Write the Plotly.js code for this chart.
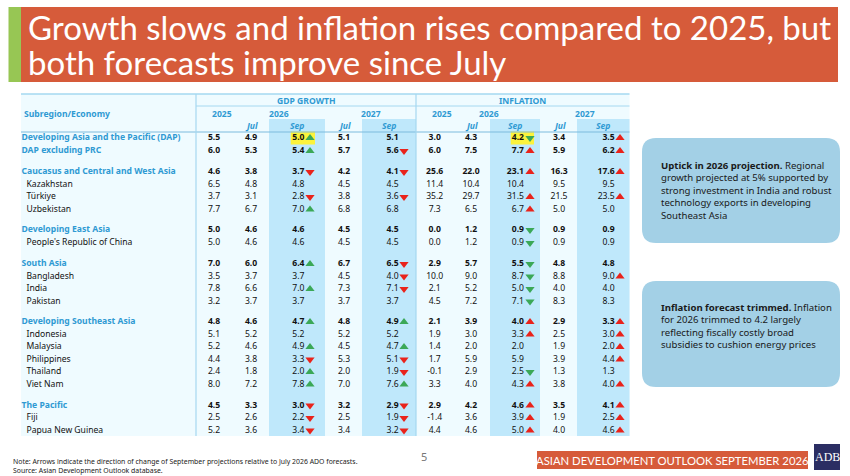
<!DOCTYPE html>
<html><head><meta charset="utf-8">
<script src="https://cdn.plot.ly/plotly-3.0.1.min.js"></script>
<style>html,body{margin:0;padding:0;background:#fff;overflow:hidden}#c{width:850px;height:476px}</style>
</head><body><div id="c"></div>
<script>
// ---------- data ----------
const economies = ["Developing Asia and the Pacific (DAP)","DAP excluding PRC","Caucasus and Central and West Asia","Kazakhstan","Türkiye","Uzbekistan","Developing East Asia","People's Republic of China","South Asia","Bangladesh","India","Pakistan","Developing Southeast Asia","Indonesia","Malaysia","Philippines","Thailand","Viet Nam","The Pacific","Fiji","Papua New Guinea"];
const isAggregate = [1,1,1,0,0,0,1,0,1,0,0,0,1,0,0,0,0,0,1,0,0];
const gdp2025    = [5.5,6.0,4.6,6.5,3.7,7.7,5.0,5.0,7.0,3.5,7.8,3.2,4.8,5.1,5.2,4.4,2.4,8.0,4.5,2.5,5.2];
const gdp2026Jul = [4.9,5.3,3.8,4.8,3.1,6.7,4.6,4.6,6.0,3.7,6.6,3.7,4.6,5.2,4.6,3.8,1.8,7.2,3.3,2.6,3.6];
const gdp2026Sep = [5.0,5.4,3.7,4.8,2.8,7.0,4.6,4.6,6.4,3.7,7.0,3.7,4.7,5.2,4.9,3.3,2.0,7.8,3.0,2.2,3.4];
const gdp2027Jul = [5.1,5.7,4.2,4.5,3.8,6.8,4.5,4.5,6.7,4.5,7.3,3.7,4.8,5.2,4.5,5.3,2.0,7.0,3.2,2.5,3.4];
const gdp2027Sep = [5.1,5.6,4.1,4.5,3.6,6.8,4.5,4.5,6.5,4.0,7.1,3.7,4.9,5.2,4.7,5.1,1.9,7.6,2.9,1.9,3.2];
const inf2025    = [3.0,6.0,25.6,11.4,35.2,7.3,0.0,0.0,2.9,10.0,2.1,4.5,2.1,1.9,1.4,1.7,-0.1,3.3,2.9,-1.4,4.4];
const inf2026Jul = [4.3,7.5,22.0,10.4,29.7,6.5,1.2,1.2,5.7,9.0,5.2,7.2,3.9,3.0,2.0,5.9,2.9,4.0,4.2,3.6,4.6];
const inf2026Sep = [4.2,7.7,23.1,10.4,31.5,6.7,0.9,0.9,5.5,8.7,5.0,7.1,4.0,3.3,2.0,5.9,2.5,4.3,4.6,3.9,5.0];
const inf2027Jul = [3.4,5.9,16.3,9.5,21.5,5.0,0.9,0.9,4.8,8.8,4.0,8.3,2.9,2.5,1.9,3.9,1.3,3.8,3.5,1.9,4.0];
const inf2027Sep = [3.5,6.2,17.6,9.5,23.5,5.0,0.9,0.9,4.8,9.0,4.0,8.3,3.3,3.0,2.0,4.4,1.3,4.0,4.1,2.5,4.6];
const titleLines = ["Growth slows and inflation rises compared to 2025, but","both forecasts improve since July"];
const calloutOne = "<b>Uptick in 2026 projection.</b> Regional<br>growth projected at 5% supported by<br>strong investment in India and robust<br>technology exports in developing<br>Southeast Asia";
const calloutTwo = "<b>Inflation forecast trimmed.</b> Inflation<br>for 2026 trimmed to 4.2 largely<br>reflecting fiscally costly broad<br>subsidies to cushion energy prices";
const noteText = "Note: Arrows indicate the direction of change of September projections relative to July 2026 ADO forecasts.";
const sourceText = "Source: Asian Development Outlook database.";

// ---------- page geometry and styles ----------
const rowY = [138,151,172,184.5,197,209.5,230,243,264,276.5,289,301.5,322,334.5,347,359.5,372,384.5,405.5,418,430.5];
const BLUE="#2F9AD3", F="Noto Sans", F2="Lato", INK="#111";
const SZ=8.6;
const traces=[];
function labels(){
  traces.push({type:"scatter",mode:"text",x:economies.map((_,i)=>isAggregate[i]?21.5:26.5),y:rowY,
    text:economies.map((e,i)=>isAggregate[i]?"<b>"+e+"</b>":e),textposition:"middle right",cliponaxis:false,
    textfont:{family:F,size:SZ,color:economies.map((_,i)=>isAggregate[i]?BLUE:INK)},hoverinfo:"skip"});
}
function col(vals,x,pos){
  traces.push({type:"scatter",mode:"text",x:vals.map(()=>x),y:rowY,cliponaxis:false,
    text:vals.map((v,i)=>{const s=v.toFixed(1);return isAggregate[i]?"<b>"+s+"</b>":s}),
    textposition:pos||"middle center",textfont:{family:F,size:SZ,color:INK},hoverinfo:"skip"});
}
function arrows(jul,sep,x){
  for(const [sym,col,test] of [["triangle-up","",(a,b)=>b>a],["triangle-down","",(a,b)=>b<a]]){
    const up=sym==="triangle-up";
    // growth up is green / inflation up is red
    const inflation = sep===inf2026Sep||sep===inf2027Sep;
    const color=(up!==inflation)?"#3BA857":"#E9231B";
    const xs=[],ys=[];
    sep.forEach((v,i)=>{if(test(jul[i],v)){xs.push(x);ys.push(rowY[i]);}});
    traces.push({type:"scatter",mode:"markers",x:xs,y:ys,cliponaxis:false,hoverinfo:"skip",
      marker:{symbol:sym,size:8,color:color,line:{width:0}}});
  }
}
labels();
col(gdp2025,214); col(gdp2026Jul,251); col(gdp2026Sep,304.5,"middle left"); col(gdp2027Jul,344); col(gdp2027Sep,398.7,"middle left");
col(inf2025,434.7); col(inf2026Jul,471); col(inf2026Sep,524,"middle left"); col(inf2027Jul,559); col(inf2027Sep,614.7,"middle left");
arrows(gdp2026Jul,gdp2026Sep,310); arrows(gdp2027Jul,gdp2027Sep,404); arrows(inf2026Jul,inf2026Sep,530); arrows(inf2027Jul,inf2027Sep,620);

function rect(x0,y0,x1,y1,c){return {type:"rect",xref:"x",yref:"y",x0,y0,x1,y1,fillcolor:c,line:{width:0},layer:"below"};}
function line(x0,y0,x1,y1,c,w){return {type:"line",xref:"x",yref:"y",x0,y0,x1,y1,line:{color:c,width:w},layer:"below"};}
function rrect(x0,y0,x1,y1,r,c){
  return {type:"path",xref:"x",yref:"y",layer:"below",fillcolor:c,line:{width:0},
    path:`M${x0+r},${y0}L${x1-r},${y0}Q${x1},${y0} ${x1},${y0+r}L${x1},${y1-r}Q${x1},${y1} ${x1-r},${y1}L${x0+r},${y1}Q${x0},${y1} ${x0},${y1-r}L${x0},${y0+r}Q${x0},${y0} ${x0+r},${y0}Z`};
}
const shapes=[
  rect(8.5,7,21,82,"#97C654"), rect(21,7,838,82,"#D65B3A"),
  rect(21,94,629.5,436,"#EFFBFF"),
  rect(269,119,325,436,"#BFE8FB"), rect(362,119,416,436,"#BFE8FB"), rect(490,119,540,436,"#BFE8FB"), rect(577,119,629.5,436,"#BFE8FB"),
  rect(290.7,131.5,315,144.5,"#FCF33C"), rect(510.7,131.5,534,144.5,"#FCF33C"),
  line(21,94,629.5,94,"#A5D8F0",1.6), line(196,106,629.5,106,"#A5D8F0",1), line(21,132,629.5,132,"#7CBBDD",1),
  line(196,94,196,436,"#A5D8F0",1.2), line(416,94,416,436,"#A5D8F0",1.2),
  rrect(642,138,840,243,14,"#A3D0E6"), rrect(642,281,840,387,14,"#A3D0E6"),
  rect(537,451,808,469,"#D65B3A"), rect(814,444,840,470,"#2B2E63")
];
function ann(x,y,text,o){o=o||{};return {xref:"x",yref:"y",x,y,text,showarrow:false,xanchor:o.a||"center",yanchor:"middle",align:o.al||"center",
  font:{family:o.f||F,size:o.s||SZ,color:o.c||BLUE}};}
const hdr=[];
hdr.push(ann(306,100.5,"<b>GDP GROWTH</b>")); hdr.push(ann(522.7,100.5,"<b>INFLATION</b>"));
hdr.push(ann(21.5,113.5,"<b>Subregion/Economy</b>",{a:"left"}));
[[222,"2025"],[279,"2026"],[371,"2027"],[442,"2025"],[489,"2026"],[585,"2027"]].forEach(p=>hdr.push(ann(p[0],113.5,"<b>"+p[1]+"</b>")));
[[251,"Jul"],[297,"Sep"],[344,"Jul"],[389,"Sep"],[471,"Jul"],[515,"Sep"],[559,"Jul"],[603,"Sep"]].forEach(p=>hdr.push(ann(p[0],126,"<b><i>"+p[1]+"</i></b>")));
const annotations=hdr.concat([
  ann(26,27,titleLines[0],{a:"left",f:F2,s:33,c:"#fff"}),
  ann(26,62,titleLines[1],{a:"left",f:F2,s:33,c:"#fff"}),
  ann(659,190.5,calloutOne,{a:"left",al:"left",s:9.6,c:"#1a1a1a"}),
  ann(659,326,calloutTwo,{a:"left",al:"left",s:9.6,c:"#1a1a1a"}),
  ann(11,461,noteText,{a:"left",s:6.9,c:"#222"}),
  ann(11,470,sourceText,{a:"left",s:6.9,c:"#222"}),
  ann(424,456,"5",{s:11,c:"#777"}),
  ann(672,460,"ASIAN DEVELOPMENT OUTLOOK SEPTEMBER 2026",{f:F2,s:11.3,c:"#fff"}),
  ann(827,457,"ADB",{f:"Liberation Serif",s:12,c:"#fff"})
]);
Plotly.newPlot("c",traces,{
  width:850,height:476,margin:{l:0,r:0,t:0,b:0},paper_bgcolor:"#fff",plot_bgcolor:"#fff",showlegend:false,
  xaxis:{range:[0,850],visible:false,fixedrange:true},
  yaxis:{range:[476,0],visible:false,fixedrange:true},
  shapes,annotations
},{displayModeBar:false,staticPlot:true});
</script></body></html>
